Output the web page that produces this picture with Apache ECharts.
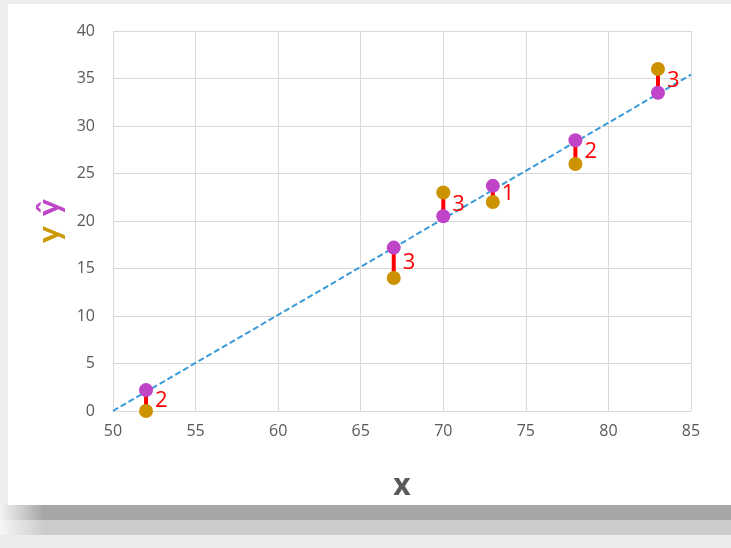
<!DOCTYPE html>
<html>
<head>
<meta charset="utf-8">
<script src="https://cdn.jsdelivr.net/npm/echarts@6/dist/echarts.min.js"></script>
<style>html,body{margin:0;padding:0;background:#fff}#c{width:731px;height:548px}</style>
</head>
<body>
<div id="c"></div>
<script>
var xValues = [52, 67, 70, 73, 78, 83];
var yActual = [0, 14, 23, 22, 26, 36];
var yPred = [2.2, 17.2, 20.5, 23.7, 28.5, 33.5];
var residualLabels = ['2', '3', '3', '1', '2', '3'];
var lineX = [50, 85];
var lineY = [0, 35.4];

var chart = echarts.init(document.getElementById('c'));
var font = '"Open Sans", "Noto Sans", sans-serif';

var segData = xValues.map(function (x, i) { return [x, yActual[i], yPred[i], residualLabels[i]]; });

chart.setOption({
  backgroundColor: '#fff',
  animation: false,
  graphic: [
    { type: 'rect', left: 0, top: 0, shape: { width: 731, height: 4 }, style: { fill: '#ededed' }, silent: true },
    { type: 'rect', left: 0, top: 0, shape: { width: 8, height: 505 }, style: { fill: '#eeeeee' }, silent: true },
    { type: 'rect', left: 0, top: 505, shape: { width: 731, height: 15 }, style: { fill: new echarts.graphic.LinearGradient(0, 0, 1, 0, [{ offset: 0, color: '#f2f2f2' }, { offset: 0.06, color: '#a6a6a6' }, { offset: 1, color: '#a6a6a6' }]) }, silent: true },
    { type: 'rect', left: 0, top: 520, shape: { width: 731, height: 15 }, style: { fill: new echarts.graphic.LinearGradient(0, 0, 1, 0, [{ offset: 0, color: '#f6f6f6' }, { offset: 0.06, color: '#cccccc' }, { offset: 1, color: '#cccccc' }]) }, silent: true },
    { type: 'rect', left: 0, top: 535, shape: { width: 731, height: 13 }, style: { fill: '#ececec' }, silent: true }
  ],
  grid: { left: 113, right: 40, top: 31, bottom: 137 },
  xAxis: {
    type: 'value', min: 50, max: 85, interval: 5,
    name: 'x', nameLocation: 'middle', nameGap: 60,
    nameTextStyle: { fontSize: 30, fontWeight: 'bold', color: '#595959', fontFamily: font },
    axisLine: { show: false }, axisTick: { show: false },
    axisLabel: { color: '#595959', fontSize: 16, fontFamily: font, margin: 12 },
    splitLine: { show: true, lineStyle: { color: '#d9d9d9', width: 1 } }
  },
  yAxis: {
    type: 'value', min: 0, max: 40, interval: 5,
    name: '{a|y}{s| }{b|ŷ}', nameLocation: 'middle', nameGap: 46, nameRotate: 90,
    nameTextStyle: {
      rich: {
        a: { fontSize: 32, fontWeight: 'bold', color: '#cc9900', fontFamily: 'Lato, "Open Sans", sans-serif' },
        s: { fontSize: 32, width: 10 },
        b: { fontSize: 32, fontWeight: 'bold', color: '#bf47c7', fontFamily: 'Lato, "Open Sans", sans-serif' }
      }
    },
    axisLine: { show: false }, axisTick: { show: false },
    axisLabel: { color: '#595959', fontSize: 16, fontFamily: font, margin: 18 },
    splitLine: { show: true, lineStyle: { color: '#d9d9d9', width: 1 } }
  },
  series: [
    {
      type: 'line', data: lineX.map(function (x, i) { return [x, lineY[i]]; }),
      symbol: 'none', lineStyle: { color: '#3a9ad9', width: 2, type: [6, 3] }, z: 2
    },
    {
      type: 'custom', data: segData, z: 3,
      renderItem: function (params, api) {
        var p1 = api.coord([api.value(0), api.value(1)]);
        var p2 = api.coord([api.value(0), api.value(2)]);
        return {
          type: 'group',
          children: [
            { type: 'line', shape: { x1: p1[0], y1: p1[1], x2: p2[0], y2: p2[1] }, style: { stroke: '#ff0000', lineWidth: 4 } },
            { type: 'text', style: { text: segData[params.dataIndex][3], x: p1[0] + 9, y: (p1[1] + p2[1]) / 2, fill: '#ff0000', fontSize: 22, fontFamily: font, align: 'left', verticalAlign: 'middle' } }
          ]
        };
      }
    },
    {
      type: 'scatter', data: xValues.map(function (x, i) { return [x, yActual[i]]; }),
      symbolSize: 14, itemStyle: { color: '#cc9200', opacity: 1 }, z: 4
    },
    {
      type: 'scatter', data: xValues.map(function (x, i) { return [x, yPred[i]]; }),
      symbolSize: 14, itemStyle: { color: '#bf44c8', opacity: 1 }, z: 5
    }
  ]
});
</script>
</body>
</html>
